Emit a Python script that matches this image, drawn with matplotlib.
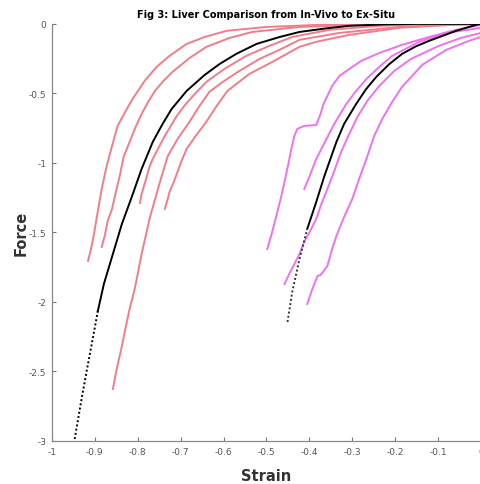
import matplotlib
matplotlib.use("Agg")
import matplotlib.pyplot as plt

# ---- In-vivo trials (red) ----
iv1_strain = [-0.916, -0.909, -0.902, -0.893, -0.884, -0.874, -0.865, -0.847, -0.828, -0.812,
              -0.784, -0.756, -0.726, -0.686, -0.644, -0.593, -0.500, -0.377, -0.191, 0.0]
iv1_force = [-1.705, -1.619, -1.511, -1.345, -1.187, -1.043, -0.935, -0.734, -0.626, -0.540,
             -0.410, -0.309, -0.230, -0.144, -0.094, -0.050, -0.022, -0.007, 0.0, 0.0]

iv2_strain = [-0.884, -0.877, -0.870, -0.860, -0.851, -0.842, -0.833, -0.819, -0.805, -0.791,
              -0.777, -0.760, -0.740, -0.719, -0.679, -0.640, -0.586, -0.533, -0.423, -0.284,
              -0.144, 0.0]
iv2_force = [-1.604, -1.525, -1.417, -1.331, -1.209, -1.094, -0.957, -0.849, -0.741, -0.647,
             -0.568, -0.482, -0.410, -0.345, -0.245, -0.165, -0.101, -0.058, -0.022, -0.007,
             0.0, 0.0]

iv3_strain = [-0.795, -0.791, -0.784, -0.772, -0.765, -0.753, -0.737, -0.723, -0.709, -0.688,
              -0.667, -0.640, -0.598, -0.547, -0.493, -0.440, -0.353, -0.237, -0.098, 0.0]
iv3_force = [-1.288, -1.223, -1.151, -1.022, -0.971, -0.899, -0.806, -0.734, -0.662, -0.576,
             -0.504, -0.417, -0.324, -0.230, -0.158, -0.094, -0.043, -0.014, 0.0, 0.0]

iv4_strain = [-0.858, -0.849, -0.837, -0.828, -0.819, -0.807, -0.791, -0.772, -0.749, -0.730,
              -0.707, -0.681, -0.656, -0.633, -0.605, -0.563, -0.516, -0.470, -0.423, -0.330,
              -0.191, 0.0]
iv4_force = [-2.626, -2.482, -2.317, -2.180, -2.050, -1.906, -1.655, -1.396, -1.144, -0.950,
             -0.827, -0.712, -0.590, -0.489, -0.424, -0.338, -0.252, -0.187, -0.115, -0.065,
             -0.022, 0.0]

iv5_strain = [-0.737, -0.730, -0.726, -0.716, -0.709, -0.698, -0.686, -0.665, -0.642, -0.616,
              -0.591, -0.540, -0.486, -0.423, -0.384, -0.307, -0.191, -0.074, 0.0]
iv5_force = [-1.331, -1.259, -1.209, -1.137, -1.079, -0.986, -0.899, -0.806, -0.712, -0.590,
             -0.482, -0.360, -0.273, -0.165, -0.129, -0.079, -0.029, -0.007, 0.0]

# ---- Ex-situ trials (magenta) ----
es1_strain = [-0.498, -0.488, -0.477, -0.467, -0.458, -0.449, -0.442, -0.435, -0.428, -0.412,
              -0.384, -0.374, -0.367, -0.347, -0.330, -0.307, -0.279, -0.237, -0.184, -0.121,
              -0.058, 0.0]
es1_force = [-1.619, -1.511, -1.381, -1.259, -1.137, -1.007, -0.899, -0.806, -0.755, -0.734,
             -0.727, -0.647, -0.576, -0.446, -0.374, -0.324, -0.266, -0.209, -0.151, -0.094,
             -0.043, -0.007]

es2_strain = [-0.412, -0.402, -0.393, -0.384, -0.372, -0.360, -0.342, -0.314, -0.291, -0.267,
              -0.237, -0.207, -0.144, -0.081, 0.0]
es2_force = [-1.187, -1.115, -1.043, -0.971, -0.899, -0.827, -0.719, -0.576, -0.482, -0.396,
             -0.309, -0.230, -0.129, -0.065, -0.029]

es3_strain = [-0.458, -0.447, -0.435, -0.423, -0.412, -0.398, -0.384, -0.372, -0.358, -0.342,
              -0.326, -0.307, -0.288, -0.265, -0.237, -0.202, -0.163, -0.098, -0.047, 0.0]
es3_force = [-1.871, -1.799, -1.727, -1.655, -1.568, -1.489, -1.403, -1.295, -1.187, -1.058,
             -0.921, -0.791, -0.669, -0.554, -0.446, -0.338, -0.252, -0.158, -0.101, -0.065]

es4_strain = [-0.405, -0.393, -0.381, -0.374, -0.370, -0.358, -0.347, -0.337, -0.319, -0.300,
              -0.284, -0.267, -0.249, -0.230, -0.207, -0.184, -0.137, -0.081, -0.028, 0.0]
es4_force = [-2.014, -1.906, -1.813, -1.806, -1.791, -1.741, -1.619, -1.525, -1.388, -1.259,
             -1.115, -0.971, -0.806, -0.683, -0.561, -0.453, -0.295, -0.187, -0.122, -0.094]

# ---- Exponential fits: solid over the data range, dotted extrapolation ----
fit_iv_strain = [-0.893, -0.879, -0.860, -0.837, -0.814, -0.791, -0.765, -0.742, -0.721, -0.686,
                 -0.644, -0.609, -0.570, -0.523, -0.470, -0.423, -0.360, -0.307, -0.230,
                 -0.151, 0.0]
fit_iv_force = [-2.065, -1.871, -1.676, -1.439, -1.245, -1.043, -0.849, -0.719, -0.612, -0.482,
                -0.367, -0.288, -0.215, -0.144, -0.095, -0.058, -0.032, -0.014, -0.004,
                0.0, 0.0]
fit_iv_ext_strain = [-0.947, -0.933, -0.919, -0.905, -0.893]
fit_iv_ext_force = [-2.986, -2.734, -2.496, -2.266, -2.065]

fit_es_strain = [-0.405, -0.384, -0.365, -0.337, -0.319, -0.291, -0.268, -0.244, -0.214, -0.184,
                 -0.152, -0.121, -0.058, -0.012, 0.0]
fit_es_force = [-1.475, -1.281, -1.094, -0.849, -0.719, -0.576, -0.470, -0.381, -0.290, -0.216,
                -0.162, -0.122, -0.050, -0.007, 0.0]
fit_es_ext_strain = [-0.451, -0.440, -0.423, -0.405]
fit_es_ext_force = [-2.144, -1.928, -1.691, -1.475]

x_ticks = [-1, -0.9, -0.8, -0.7, -0.6, -0.5, -0.4, -0.3, -0.2, -0.1, 0]
x_tick_labels = ["-1", "-0.9", "-0.8", "-0.7", "-0.6", "-0.5", "-0.4", "-0.3", "-0.2", "-0.1", "0"]
y_ticks = [-3, -2.5, -2, -1.5, -1, -0.5, 0]
y_tick_labels = ["-3", "-2.5", "-2", "-1.5", "-1", "-0.5", "0"]

RED = "#ef7e8a"
MAGENTA = "#ee72ee"

fig = plt.figure(figsize=(4.81, 4.85), dpi=100)
ax = fig.add_axes([0.108, 0.0887, 0.892, 0.86])

for xs, ys in [(iv1_strain, iv1_force), (iv2_strain, iv2_force), (iv3_strain, iv3_force),
               (iv4_strain, iv4_force), (iv5_strain, iv5_force)]:
    ax.plot(xs, ys, color=RED, lw=1.4, solid_joinstyle="round")

for xs, ys in [(es1_strain, es1_force), (es2_strain, es2_force), (es3_strain, es3_force),
               (es4_strain, es4_force)]:
    ax.plot(xs, ys, color=MAGENTA, lw=1.4, solid_joinstyle="round")

ax.plot(fit_iv_strain, fit_iv_force, color="black", lw=1.4, solid_joinstyle="round")
ax.plot(fit_iv_ext_strain, fit_iv_ext_force, color="black", lw=1.4, ls=(0, (1, 1.2)))
ax.plot(fit_es_strain, fit_es_force, color="black", lw=1.4, solid_joinstyle="round")
ax.plot(fit_es_ext_strain, fit_es_ext_force, color="#2a3a2a", lw=1.4, ls=(0, (1, 1.2)))

ax.set_xlim(-1, 0)
ax.set_ylim(-3, 0)
ax.set_xticks(x_ticks)
ax.set_xticklabels(x_tick_labels)
ax.set_yticks(y_ticks)
ax.set_yticklabels(y_tick_labels)
ax.tick_params(direction="in", length=3, width=0.8, colors="#777777", labelsize=6.5,
               labelcolor="#555555", pad=4)

for side in ("top", "right"):
    ax.spines[side].set_visible(False)
for side in ("left", "bottom"):
    ax.spines[side].set_color("#888888")
    ax.spines[side].set_linewidth(0.9)

ax.set_title("Fig 3: Liver Comparison from In-Vivo to Ex-Situ", fontsize=7,
             fontweight="bold", pad=5)
ax.set_xlabel("Strain", fontsize=10.5, fontweight="bold", color="#333333", labelpad=9)
ax.set_ylabel("Force", fontsize=10.5, fontweight="bold", color="#333333", labelpad=0)

fig.savefig("out.png", dpi=100)
